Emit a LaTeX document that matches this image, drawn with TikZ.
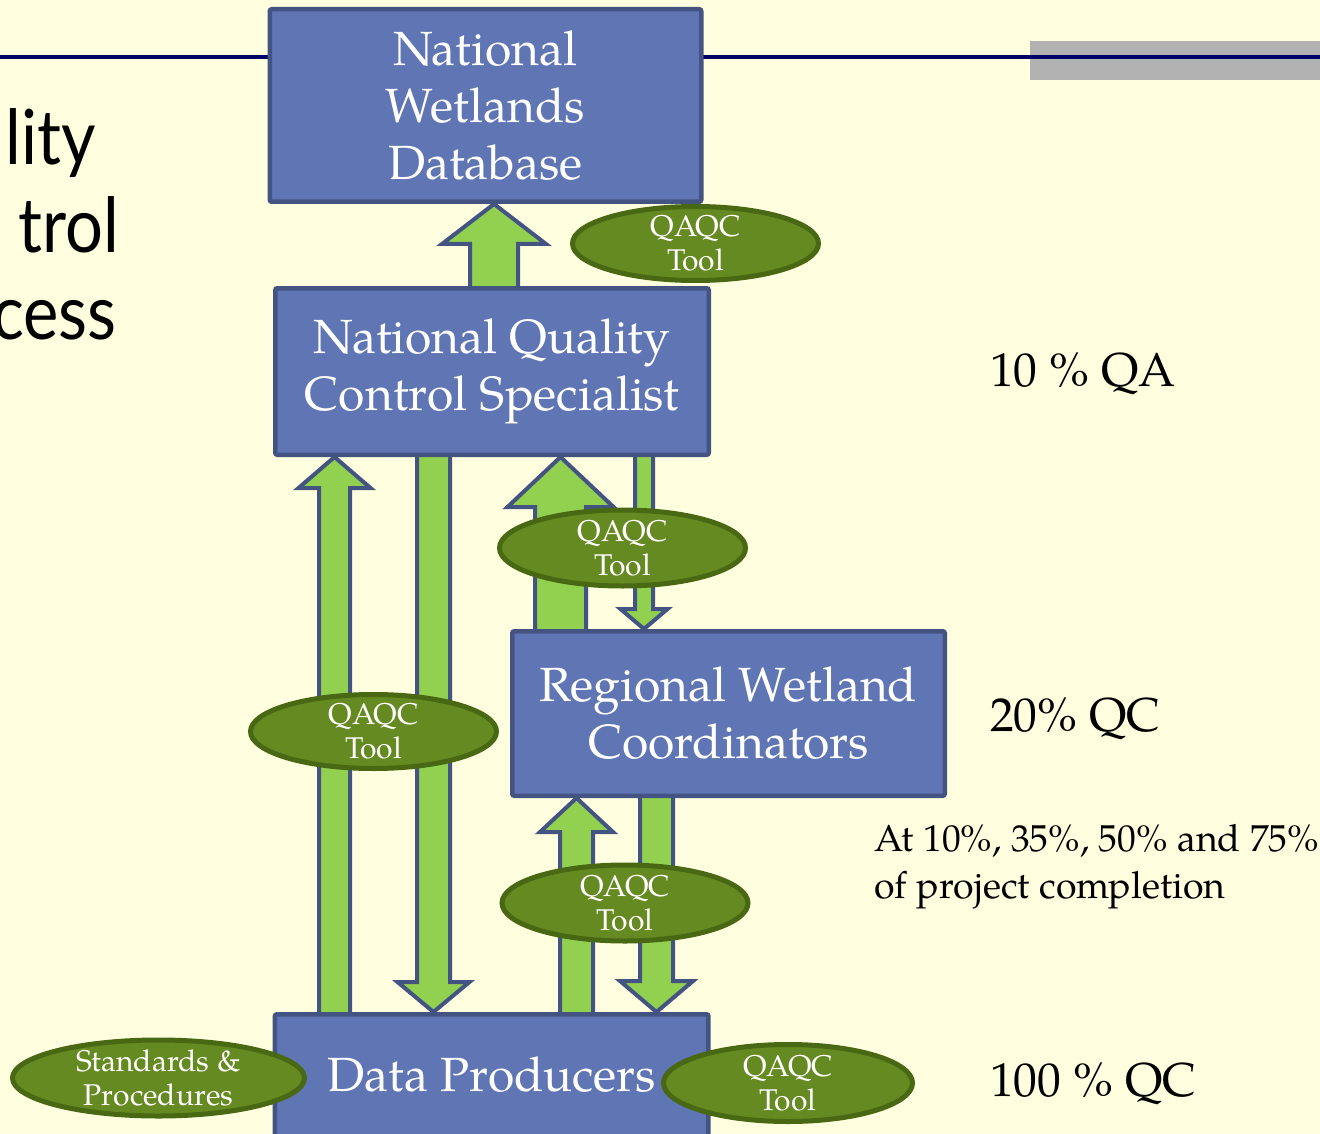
\documentclass[tikz,border=0pt]{standalone}
\usepackage{fontspec}
\setmainfont{TeX Gyre Pagella}
\newfontfamily\titlefont[FakeStretch=0.88]{Lato}
\usetikzlibrary{shapes.geometric,calc}
\definecolor{bgc}{HTML}{FFFFE0}
\definecolor{navy}{HTML}{000066}
\definecolor{barg}{HTML}{B2B2B2}
\definecolor{boxf}{HTML}{6076B4}
\definecolor{boxd}{HTML}{435382}
\definecolor{arrf}{HTML}{92D050}
\definecolor{ellf}{HTML}{658A21}
\definecolor{elld}{HTML}{496813}
\pgfdeclarelayer{back}
\pgfdeclarelayer{arr}
\pgfsetlayers{back,arr,main}
\tikzset{
  box/.style={draw=boxd, fill=boxf, line width=4.5pt, rounded corners=2pt, text=white,
    align=center, inner sep=0pt, font=\fontsize{48}{57}\selectfont},
  boxtext/.style={text=white, inner sep=0pt, font=\fontsize{48}{57}\selectfont},
  tool/.style={ellipse, draw=elld, fill=ellf, line width=5pt, inner sep=0pt},
  tooltext/.style={text=white, align=center, inner sep=0pt, font=\fontsize{30}{34}\selectfont},
  blk/.style={draw=boxd, fill=arrf, line width=4pt, line join=miter},
  side/.style={anchor=base west, inner sep=0pt, font=\fontsize{47.5}{56}\selectfont},
  sidesmall/.style={anchor=base west, inner sep=0pt, font=\fontsize{37.5}{46}\selectfont},
  titletext/.style={anchor=base east, inner sep=0pt, font=\titlefont\fontsize{76}{87}\selectfont}
}
% up block arrow: x, bottom anchor, top anchor, shaft half width, head half width, head length
\newcommand\blkup[6]{%
  \draw[blk] let \p1=(#2), \p2=(#3) in
    (#1pt-#4pt,\y1-6pt) -- (#1pt-#4pt,\y2-#6pt) -- (#1pt-#5pt,\y2-#6pt) -- (#1pt,\y2)
    -- (#1pt+#5pt,\y2-#6pt) -- (#1pt+#4pt,\y2-#6pt) -- (#1pt+#4pt,\y1-6pt) -- cycle;}
% down block arrow: x, top anchor, bottom anchor, shaft half width, head half width, head length
\newcommand\blkdown[6]{%
  \draw[blk] let \p1=(#2), \p2=(#3) in
    (#1pt-#4pt,\y1+6pt) -- (#1pt-#4pt,\y2+#6pt) -- (#1pt-#5pt,\y2+#6pt) -- (#1pt,\y2)
    -- (#1pt+#5pt,\y2+#6pt) -- (#1pt+#4pt,\y2+#6pt) -- (#1pt+#4pt,\y1+6pt) -- cycle;}
\begin{document}
\begin{tikzpicture}[x=1pt,y=-1pt]
\useasboundingbox (0,0) rectangle (1320,1134);
\begin{pgfonlayer}{back}
  \fill[bgc] (0,0) rectangle (1320,1134);
  \fill[barg] (1030,41) rectangle (1320,80);
  \draw[navy, line width=4pt] (0,57.5) -- (1320,57.5);
\end{pgfonlayer}
\clip (0,0) rectangle (1320,1134);

% title fragments
\node[titletext] (title1) at (96,165) {lity};
\node[titletext] (title2) at (119,252) {trol};
\node[titletext] (title3) at (117,339) {cess};

% boxes
\node[box, minimum width=431.5, minimum height=192.5] (nwd) at (485.5,105.5) {National\\Wetlands\\Database};
\node[box, minimum width=433.5, minimum height=166.5] (nqcs) at (492,371.5) {National Quality\\Control Specialist};
\node[box, minimum width=432.5, minimum height=164.5] (rwc) at (728.5,713.5) {Regional Wetland\\Coordinators};
\node[box, minimum width=433.5, minimum height=150, anchor=north] (dp) at (491.7,1012) {};
\node[boxtext] (dptext) at (491.7,1075) {Data Producers};

% block arrows
\begin{pgfonlayer}{arr}
  \blkup{494}{nqcs.north}{nwd.south}{24}{52}{40}
  \blkup{334.5}{dp.north}{nqcs.south}{15.5}{36}{31}
  \blkdown{433.5}{nqcs.south}{dp.north}{16.5}{36}{30}
  \blkup{560.5}{rwc.north}{nqcs.south}{25.5}{53}{50}
  \blkdown{644}{nqcs.south}{rwc.north}{9}{23.5}{20}
  \blkup{576.5}{dp.north}{rwc.south}{16.5}{36.5}{34}
  \blkdown{656.5}{rwc.south}{dp.north}{16.5}{36.5}{31}
\end{pgfonlayer}

% QAQC tools
\node[tool, minimum width=246, minimum height=74] (tool1) at (695.5,243.5) {};
\node[tooltext] (tool1t) at (tool1) {QAQC\\Tool};
\node[tool, minimum width=246, minimum height=76] (tool2) at (622.5,548) {};
\node[tooltext] (tool2t) at (tool2) {QAQC\\Tool};
\node[tool, minimum width=246, minimum height=74] (tool3) at (373.5,731.5) {};
\node[tooltext] (tool3t) at (tool3) {QAQC\\Tool};
\node[tool, minimum width=246, minimum height=76] (tool4) at (625,903) {};
\node[tooltext] (tool4t) at (tool4) {QAQC\\Tool};
\node[tool, minimum width=292, minimum height=76] (std) at (158.5,1078) {};
\node[tooltext] (stdt) at (std) {Standards \&\\Procedures};
\node[tool, minimum width=249, minimum height=77] (tool5) at (788,1083) {};
\node[tooltext] (tool5t) at (tool5) {QAQC\\Tool};

% right-hand notes
\node[side] (qa10) at (990,386.7) {10 \% QA};
\node[side] (qc20) at (990,731) {20\% QC};
\node[sidesmall] (when1) at (874,851.7) {At 10\%, 35\%, 50\% and 75\%};
\node[sidesmall] (when2) at (874,898) {of project completion};
\node[side] (qc100) at (990,1096.7) {100 \% QC};
\end{tikzpicture}
\end{document}
